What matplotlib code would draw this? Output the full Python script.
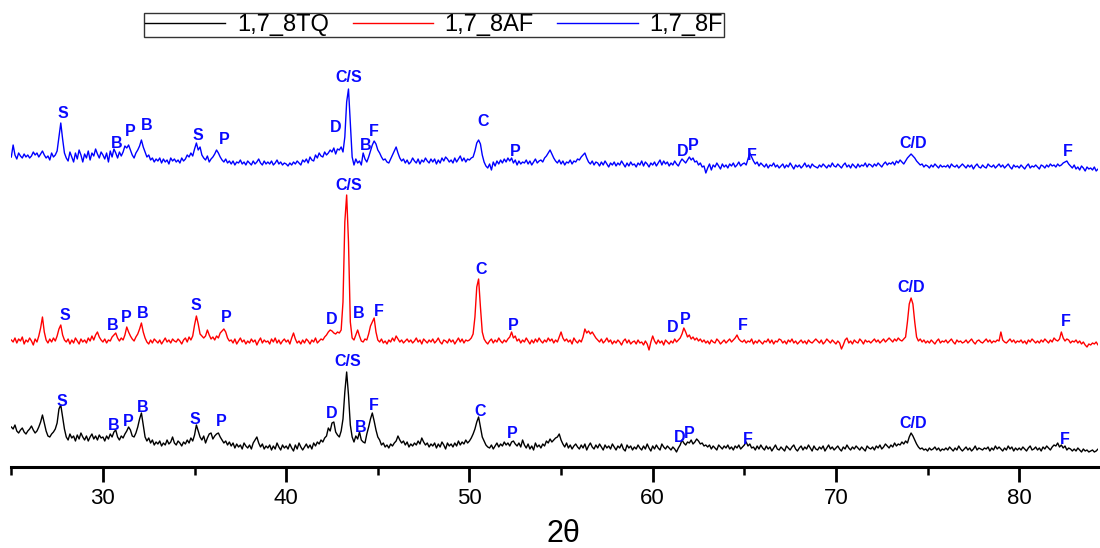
import numpy as np
import matplotlib
matplotlib.use("Agg")
import matplotlib.pyplot as plt
from matplotlib.lines import Line2D
from matplotlib.ticker import MultipleLocator

# ---------------- data ----------------
theta_start = 25.0
theta_step = 0.1
series_names = ["1,7_8TQ", "1,7_8AF", "1,7_8F"]
series_colors = ["#000000", "#ff0000", "#0000ff"]
series_offsets = [0, 105, 290]

int_8TQ = [
    40,38,42,36,34,37,39,35,33,36,
    38,41,37,34,36,40,45,52,44,36,
    31,30,33,35,38,44,58,62,50,38,
    30,27,33,29,31,26,32,28,34,30,
    27,31,26,30,33,28,31,27,32,29,
    30,26,31,28,33,30,35,37,30,27,
    31,29,33,36,40,37,31,30,34,40,
    48,54,42,30,26,29,24,27,22,25,
    23,26,21,24,22,27,23,25,30,24,
    22,26,24,21,25,23,27,24,29,26,
    32,42,36,30,27,31,24,29,33,34,
    28,31,33,34,30,27,24,26,22,25,
    21,24,19,23,20,22,18,24,21,19,
    22,18,24,27,30,24,20,23,18,21,
    19,22,17,21,18,24,20,17,22,19,
    21,18,23,19,16,22,18,24,20,17,
    20,23,19,22,18,24,21,25,23,27,
    25,29,31,39,36,44,45,35,32,30,
    36,48,75,95,72,42,30,25,31,28,
    35,27,25,24,33,40,48,54,46,37,
    30,27,22,24,20,22,19,23,21,24,
    26,31,27,24,26,22,25,20,23,21,
    24,22,26,23,29,25,22,24,20,23,
    21,24,19,23,20,25,22,18,24,21,
    23,20,24,21,26,22,25,23,27,24,
    26,29,33,38,45,50,40,30,26,22,
    20,19,22,18,21,24,20,23,21,25,
    22,24,21,25,26,23,21,24,20,27,
    22,19,23,18,21,17,24,20,22,19,
    23,21,26,24,28,25,27,29,30,33,
    27,23,20,24,19,22,18,21,23,20,
    18,22,19,23,17,21,24,20,18,22,
    19,23,20,17,22,19,21,18,23,20,
    17,21,19,23,18,16,22,19,21,17,
    20,18,22,19,17,21,18,23,19,16,
    21,18,22,19,17,23,20,18,21,19,
    17,20,18,15,19,22,27,24,22,25,
    24,27,23,25,28,26,23,24,21,22,
    20,22,18,21,19,17,22,20,18,21,
    19,22,18,20,17,21,19,22,18,20,
    22,25,21,23,19,20,17,21,18,22,
    19,17,21,18,20,16,19,22,18,17,
    20,18,16,21,19,17,20,22,18,16,
    19,21,17,20,18,22,19,16,21,18,
    17,20,18,21,16,19,22,18,20,17,
    19,21,18,16,20,18,22,19,17,20,
    18,21,19,17,20,18,16,21,19,18,
    20,17,21,19,22,18,20,23,21,19,
    22,20,24,21,23,22,25,23,26,24,
    30,34,31,27,23,20,18,19,17,18,
    16,19,17,18,20,17,19,16,18,17,
    19,17,20,18,16,19,17,21,18,16,
    18,20,17,19,16,18,21,17,19,18,
    17,19,18,20,16,19,17,21,18,20,
    18,16,19,17,21,18,20,16,19,17,
    19,17,20,18,16,19,21,17,18,20,
    17,19,16,20,18,21,19,17,20,22,
    21,24,20,22,19,21,17,19,18,16,
    18,16,19,17,15,18,16,17,15,16,
    17,15,16,18,15,
]

int_8AF = [
    22,20,24,19,23,21,25,18,22,20,
    24,21,17,23,20,26,34,45,30,22,
    19,23,20,24,21,26,33,37,27,22,
    20,23,18,22,19,24,21,18,23,20,
    22,19,24,21,26,22,27,30,25,22,
    20,23,19,22,21,25,27,29,24,21,
    24,22,27,35,30,26,23,21,25,28,
    33,39,30,24,20,18,22,19,23,21,
    19,22,18,21,24,20,22,19,23,21,
    20,23,21,18,22,24,20,25,22,26,
    37,46,38,28,26,24,26,32,27,23,
    25,22,26,24,29,31,33,30,24,21,
    22,19,23,18,21,24,20,22,18,21,
    19,23,20,22,17,21,24,19,22,20,
    21,18,23,20,24,19,22,18,21,23,
    20,22,18,24,29,23,19,21,18,22,
    19,23,21,18,22,20,24,19,21,23,
    22,25,27,30,32,31,29,28,30,29,
    32,60,140,167,120,40,24,22,27,32,
    26,21,20,23,22,28,36,40,44,30,
    22,20,23,19,21,18,22,20,24,21,
    26,23,20,22,19,21,23,20,22,19,
    21,24,20,22,18,23,21,19,22,20,
    23,19,21,24,20,18,22,21,19,23,
    20,22,18,21,24,20,23,19,22,21,
    22,24,28,45,75,83,55,30,23,20,
    18,21,23,19,22,20,24,21,19,22,
    20,23,25,30,24,26,21,23,19,22,
    20,24,21,18,22,19,23,20,24,21,
    19,22,20,24,21,23,19,22,20,25,
    30,24,21,23,20,22,18,24,21,19,
    22,20,25,33,29,31,28,30,27,24,
    22,20,23,19,21,24,20,22,18,21,
    19,22,20,17,21,23,19,22,18,20,
    21,18,22,19,20,17,21,18,12,20,
    26,21,18,22,19,21,17,22,20,18,
    21,19,23,20,22,24,28,34,30,25,
    27,23,25,22,24,21,23,20,22,19,
    21,18,22,20,19,23,21,18,20,22,
    19,21,23,20,22,24,27,23,21,20,
    22,19,21,20,23,18,21,19,22,20,
    18,21,20,23,19,22,18,21,20,23,
    22,19,21,18,22,20,23,19,21,18,
    20,22,19,21,18,22,20,19,21,23,
    21,19,22,18,20,23,21,19,22,20,
    18,21,19,13,17,22,24,19,21,18,
    22,20,19,23,21,18,22,20,21,19,
    21,23,20,22,19,21,23,20,22,24,
    22,20,23,21,24,22,21,23,25,40,
    58,64,58,40,25,21,23,20,22,19,
    21,19,22,20,18,21,23,19,21,20,
    22,19,21,23,20,18,22,20,21,19,
    20,22,19,21,23,20,18,21,22,20,
    19,21,23,20,22,19,21,20,22,21,
    30,22,20,19,21,23,20,22,19,21,
    20,22,19,21,18,22,20,23,21,19,
    21,19,22,20,23,21,19,22,20,24,
    22,21,23,30,24,21,23,22,19,21,
    20,22,19,21,18,20,17,15,18,17,
    19,18,20,17,19,
]

int_8F = [
    20,32,22,18,24,21,19,23,20,22,
    19,21,25,22,24,20,23,26,22,19,
    21,17,24,20,22,26,40,54,38,24,
    19,16,25,20,15,24,18,27,22,15,
    23,19,26,17,24,21,28,23,19,25,
    22,18,24,15,26,20,28,24,19,25,
    21,25,31,29,32,27,22,19,24,27,
    31,37,30,25,20,22,17,19,15,18,
    16,19,14,18,15,17,13,19,16,18,
    15,17,14,19,16,18,22,20,24,21,
    28,34,27,30,22,19,17,21,15,18,
    20,23,27,24,20,17,15,18,14,16,
    13,16,12,15,14,17,13,15,12,16,
    14,12,16,13,15,18,14,12,16,13,
    15,13,16,12,14,17,13,15,12,14,
    13,11,14,12,15,13,16,14,12,17,
    15,18,14,20,17,16,22,19,24,21,
    20,25,22,24,27,25,29,23,28,27,
    30,25,40,75,88,55,20,12,18,14,
    16,12,24,18,15,20,26,32,36,33,
    27,24,20,17,18,15,14,18,22,26,
    30,24,19,16,18,14,17,13,15,19,
    16,14,18,13,17,15,19,16,14,18,
    15,18,13,17,14,19,16,20,18,15,
    17,14,19,15,18,21,16,19,15,18,
    17,19,20,26,34,37,33,22,15,11,
    9,13,7,15,11,16,13,17,14,18,
    15,19,16,19,14,17,12,16,13,15,
    14,17,13,16,12,15,18,14,16,17,
    15,19,21,24,27,23,19,16,14,17,
    13,16,12,15,14,17,13,16,15,18,
    17,20,22,24,19,15,13,16,12,15,
    14,11,15,12,16,13,10,14,12,15,
    11,14,12,16,13,10,14,11,15,12,
    13,10,14,12,16,11,15,13,10,14,
    12,15,11,14,17,12,16,13,15,11,
    14,12,16,13,11,15,18,16,14,17,
    20,17,19,15,16,12,14,10,11,4,
    9,13,7,12,10,14,11,8,13,10,
    12,9,13,11,14,10,12,15,11,13,
    14,12,18,24,20,16,13,15,11,14,
    12,10,13,9,12,11,14,10,12,9,
    11,13,9,12,10,14,11,8,12,10,
    12,9,11,14,10,12,9,13,11,10,
    9,12,10,13,11,9,12,10,14,11,
    10,13,11,9,12,14,10,12,9,13,
    11,9,13,10,12,11,14,10,13,12,
    10,13,11,14,12,10,13,15,12,14,
    13,15,12,16,14,17,15,13,16,19,
    21,23,21,19,16,14,12,13,10,12,
    11,9,12,10,13,11,9,12,10,11,
    10,12,9,13,11,10,12,9,11,13,
    11,9,12,10,12,8,11,13,10,9,
    12,10,9,13,11,10,12,9,11,13,
    10,12,9,11,13,10,8,12,10,11,
    9,12,10,8,11,13,9,11,10,12,
    10,8,12,11,9,12,10,13,11,12,
    10,13,11,12,14,15,16,13,11,9,
    12,8,10,7,11,9,6,10,8,9,
    7,10,6,8,5,
]

# phase labels: (text, 2theta, height) for each series
labels_8TQ = [("S",27.76,65),("B",30.60,42),("P",31.36,46),("B",32.18,59),("S",35.02,48),
              ("P",36.44,45),("D",42.49,53),("C/S",43.37,105),("B",44.08,40),("F",44.78,61),
              ("C",50.57,55),("P",52.31,33),("D",61.48,29),("P",62.02,33),("F",65.19,27),
              ("C/D",74.19,44),("F",82.48,28)]
labels_8AF = [("S",27.93,152),("B",30.55,142),("P",31.25,150),("B",32.18,153),("S",35.07,162),
              ("P",36.71,149),("D",42.49,148),("C/S",43.42,282),("B",43.97,153),("F",45.06,156),
              ("C",50.62,198),("P",52.37,142),("D",61.10,140),("P",61.75,148),("F",64.92,142),
              ("C/D",74.08,179),("F",82.54,146)]
labels_8F = [("S",27.82,354),("B",30.76,324),("P",31.47,335),("B",32.40,341),("S",35.18,331),
             ("P",36.60,327),("D",42.71,340),("C/S",43.42,390),("F",44.78,336),("B",44.35,322),
             ("C",50.73,346),("P",52.48,316),("D",61.64,315),("P",62.24,321),("F",65.41,312),
             ("C/D",74.19,323),("F",82.65,316)]

x_ticks_major = [30, 40, 50, 60, 70, 80]
x_label = "2θ"

# ---------------- plot ----------------
plt.rcParams['font.family'] = ['Liberation Sans', 'DejaVu Sans']

fig = plt.figure(figsize=(11.0, 5.48), dpi=100)
ax = fig.add_axes([11.3/1100, 81/548, (1098-11.3)/1100, 467/548])
ax.patch.set_alpha(0)

all_series = [int_8TQ, int_8AF, int_8F]
handles = []
for vals, name, col, off in zip(all_series, series_names, series_colors, series_offsets):
    y = np.array(vals, dtype=float) + off
    x = theta_start + theta_step * np.arange(len(y))
    ax.plot(x, y, color=col, lw=1.0, label=name)
    handles.append(Line2D([0], [0], color=col, lw=1.0))

for lab in (labels_8TQ, labels_8AF, labels_8F):
    for t, xx, yy in lab:
        ax.text(xx, yy, t, color="#0a0aff", fontsize=11.5, fontweight="bold",
                ha="center", va="center")

ax.set_xlim(25, 84.3)
ax.set_ylim(0, 467)
for s in ("left", "right", "top"):
    ax.spines[s].set_visible(False)
ax.spines["bottom"].set_linewidth(2.2)
ax.set_yticks([])
ax.set_xticks(x_ticks_major)
ax.xaxis.set_minor_locator(MultipleLocator(5))
ax.tick_params(axis="x", which="major", direction="out", length=11, width=2.0,
               labelsize=16, pad=4)
ax.tick_params(axis="x", which="minor", direction="out", length=6, width=1.8)
ax.set_xlabel(x_label, fontsize=22)
ax.xaxis.set_label_coords((563 - 11.3) / (1098 - 11.3), -0.112)

leg = fig.legend(handles, series_names, loc="center", bbox_to_anchor=(434/1100, 1-25/548),
                 ncol=3, fontsize=17, frameon=True, fancybox=False, edgecolor="black",
                 borderpad=0.05, handlelength=3.4, handletextpad=0.5, columnspacing=1.0,
                 borderaxespad=0)
leg.get_frame().set_linewidth(1.0)

fig.savefig("out.png", dpi=100)
